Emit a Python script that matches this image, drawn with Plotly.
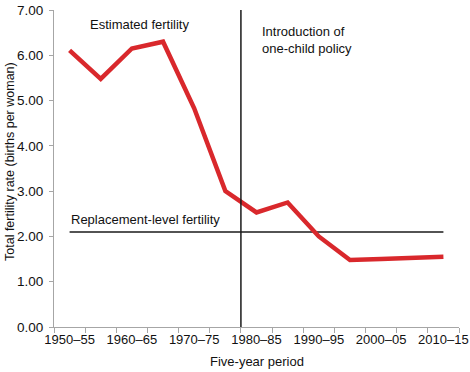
import plotly.graph_objects as go

periods = ["1950–55", "1955–60", "1960–65", "1965–70", "1970–75", "1975–80",
           "1980–85", "1985–90", "1990–95", "1995–2000", "2000–05", "2005–10", "2010–15"]
fertility = [6.11, 5.48, 6.15, 6.30, 4.83, 3.00, 2.53, 2.75, 2.00, 1.48, 1.50, 1.53, 1.55]
replacement_level = 2.1
policy_position = 5.5  # boundary between 1975–80 and 1980–85
tick_text = [p if i % 2 == 0 else "" for i, p in enumerate(periods)]
y_ticks = [0, 1, 2, 3, 4, 5, 6, 7]

FONT = "Liberation Sans, Arial, sans-serif"
AXIS_GREY = "#a6a6a6"
TXT = "#111111"

fig = go.Figure()
fig.add_trace(go.Scatter(x=[periods[0], periods[-1]], y=[replacement_level] * 2,
                         mode="lines", line=dict(color="#1a1a1a", width=1.5),
                         hoverinfo="skip", showlegend=False))
fig.add_trace(go.Scatter(x=periods, y=fertility, mode="lines",
                         line=dict(color="#d9282c", width=4.5), showlegend=False))

fig.add_shape(type="line", xref="x", yref="y", x0=policy_position, x1=policy_position,
              y0=0, y1=7.04, line=dict(color="#1a1a1a", width=1.5))

fig.add_annotation(text="Estimated fertility", x=2.24, y=6.67, xref="x", yref="y",
                   showarrow=False, font=dict(size=13, color=TXT, family=FONT))
fig.add_annotation(text="Introduction of<br>one-child policy", x=6.12, y=6.34,
                   xref="x", yref="y", xanchor="left", yanchor="middle", align="left",
                   showarrow=False, font=dict(size=13, color=TXT, family=FONT))
fig.add_annotation(text="Replacement-level fertility", x=-0.02, y=2.38,
                   xref="x", yref="y", xanchor="left", yanchor="middle",
                   showarrow=False, font=dict(size=13, color=TXT, family=FONT))

# axis titles as annotations for exact placement
fig.add_annotation(text="Total fertility rate (births per woman)", textangle=-90,
                   xref="paper", yref="paper", x=-0.11, y=0.522,
                   xanchor="center", yanchor="middle", showarrow=False,
                   font=dict(size=12.5, color=TXT, family=FONT))
fig.add_annotation(text="Five-year period", xref="paper", yref="paper", x=0.501, y=-0.11,
                   xanchor="center", yanchor="middle", showarrow=False,
                   font=dict(size=13, color=TXT, family=FONT))

fig.update_layout(
    width=470, height=372,
    margin=dict(l=54, r=11, t=10, b=45),
    paper_bgcolor="white", plot_bgcolor="white",
    font=dict(family=FONT, size=13, color=TXT),
    xaxis=dict(type="category", categoryorder="array", categoryarray=periods,
               tickvals=periods, ticktext=tick_text, tickson="boundaries",
               ticks="outside", ticklen=5, tickcolor=AXIS_GREY, tickwidth=1,
               showline=True, linecolor=AXIS_GREY, linewidth=1, showgrid=False,
               range=[-0.5, 12.5], tickangle=0, automargin=False,
               ticklabeloverflow="allow", tickfont=dict(size=13)),
    yaxis=dict(range=[0, 7], tickvals=y_ticks, tickformat=".2f",
               ticks="outside", ticklen=4, tickcolor=AXIS_GREY, tickwidth=1,
               showline=True, linecolor=AXIS_GREY, linewidth=1, showgrid=False,
               zeroline=False, automargin=False, ticklabelstandoff=3,
               ticklabeloverflow="allow", tickfont=dict(size=13.5)),
)

fig.write_html("out.html", config={"displayModeBar": False},
               post_script="document.body.style.margin='0';")
